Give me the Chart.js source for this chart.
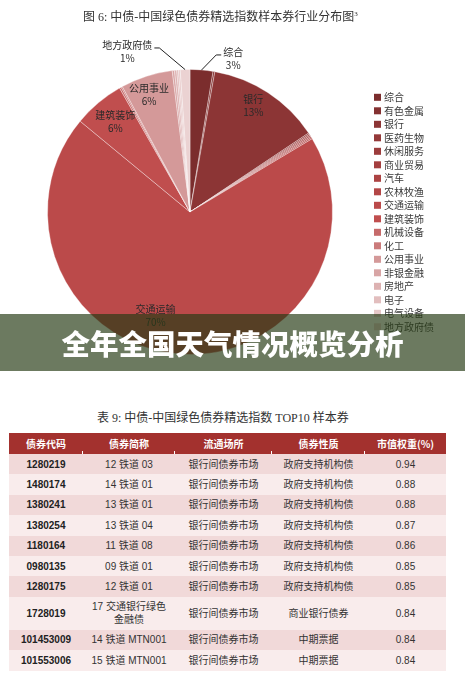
<!DOCTYPE html>
<html>
<head>
<meta charset="utf-8">
<script src="https://cdn.jsdelivr.net/npm/chart.js@4.4.0/dist/chart.umd.min.js"></script>
<style>
  html, body { margin: 0; padding: 0; background: #fff; }
  #page { position: relative; width: 465px; height: 686px; overflow: hidden; font-family: "Noto Sans CJK SC", "Liberation Sans", sans-serif; }
  #piechart { position: absolute; left: 0; top: 0; }
  .cap { position: absolute; font-size: 12px; color: #333; white-space: nowrap; font-family: "Liberation Serif", "Noto Sans CJK SC", serif; }
  #banner { position: absolute; left: 0; top: 314px; width: 465px; height: 57px; background: rgba(39, 59, 20, 0.68);
            color: #fff; font-size: 28.5px; font-weight: 900; text-align: center; line-height: 57px; }
  #tbl { position: absolute; left: 9px; top: 433px; width: 437px; border-collapse: collapse; table-layout: fixed;
         font-family: "Liberation Sans", "Noto Sans CJK SC", sans-serif; font-size: 10px; color: #333; }
  #tbl th { background: #a3312e; color: #fff; height: 21px; font-weight: bold; padding: 0; font-family: "Noto Sans CJK SC", sans-serif; position: relative; }
  #tbl th .tick { position: absolute; right: 0; bottom: 0; width: 1px; height: 3px; background: #fff; }
  #tbl td { height: 20.4px; padding: 0; text-align: center; line-height: 13px; }
  #tbl td.code { font-weight: bold; color: #222; }
  #tbl tr.odd td { background: #f1d9d9; }
  #tbl tr.even td { background: #f9ecec; }
  #tbl tr.tall td { height: 33px; }
</style>
</head>
<body>
<div id="page">
  <canvas id="piechart" width="465" height="400"></canvas>
  <div class="cap" style="left:83px; top:7px;">图 6: 中债-中国绿色债券精选指数样本券行业分布图<sup style="font-size:7px;">3</sup></div>
  <div id="banner">全年全国天气情况概览分析</div>
  <div class="cap" style="left:97px; top:408px;">表 9: 中债-中国绿色债券精选指数 TOP10 样本券</div>
  <table id="tbl"></table>
</div>
<script>
// industry split of the index sample (%)
var industries = ["综合", "有色金属", "银行", "医药生物", "休闲服务", "商业贸易", "汽车", "农林牧渔",
  "交通运输", "建筑装饰", "机械设备", "化工", "公用事业", "非银金融", "房地产", "电子", "电气设备", "地方政府债"];
var shares = [2.6, 0.2, 12.9, 0.15, 0.15, 0.15, 0.15, 0.15,
  69.8, 5.8, 0.2, 0.15, 5.9, 0.25, 0.25, 0.2, 0.2, 1.1];
var colors = ["#7b2d2d", "#843131", "#8c3535", "#943939", "#9c3c3c", "#a43f3f", "#ac4343", "#b34646",
  "#bb4a4a", "#c04e4e", "#c66a6a", "#cb7b7b", "#d49999", "#d8a5a5", "#ddb2b2", "#e2bebe", "#e6c8c8", "#ebd2d2"];

// TOP10 table
var tblHead = ["债券代码", "债券简称", "流通场所", "债券性质", "市值权重(%)"];
var bondCodes = ["1280219", "1480174", "1380241", "1380254", "1180164", "0980135", "1280175", "1728019", "101453009", "101553006"];
var bondNames = ["12 铁道 03", "14 铁道 01", "13 铁道 01", "13 铁道 04", "11 铁道 08", "09 铁道 01", "12 铁道 01",
  "17 交通银行绿色<br>金融债", "14 铁道 MTN001", "15 铁道 MTN001"];
var bondMarket = ["银行间债券市场", "银行间债券市场", "银行间债券市场", "银行间债券市场", "银行间债券市场",
  "银行间债券市场", "银行间债券市场", "银行间债券市场", "银行间债券市场", "银行间债券市场"];
var bondType = ["政府支持机构债", "政府支持机构债", "政府支持机构债", "政府支持机构债", "政府支持机构债",
  "政府支持机构债", "政府支持机构债", "商业银行债券", "中期票据", "中期票据"];
var bondWeight = ["0.94", "0.88", "0.88", "0.87", "0.86", "0.85", "0.85", "0.84", "0.84", "0.84"];

// which slices get a label, and where (angle shift in deg, radius factor, outside w/ leader)
var labelPlace = {
  "综合": { dAng: 11.1, k: 1.116, out: true },
  "银行": { dAng: -2.5, k: 0.87 },
  "交通运输": { dAng: 14, k: 0.77 },
  "建筑装饰": { dAng: 0.3, k: 0.82 },
  "公用事业": { dAng: -1.5, k: 0.87 },
  "地方政府债": { dAng: -19.4, k: 1.206, out: true }
};

var colW = [74, 92, 97, 93, 81];
var tbl = document.getElementById('tbl');
var html = '<colgroup>';
colW.forEach(function(w) { html += '<col style="width:' + w + 'px">'; });
html += '</colgroup><tr>';
tblHead.forEach(function(h, i) { html += '<th>' + h + (i < 4 ? '<span class="tick"></span>' : '') + '</th>'; });
html += '</tr>';
for (var i = 0; i < bondCodes.length; i++) {
  html += '<tr class="' + (i % 2 == 0 ? 'odd' : 'even') + (i == 7 ? ' tall' : '') + '">' +
    '<td class="code">' + bondCodes[i] + '</td><td>' + bondNames[i] + '</td><td>' + bondMarket[i] +
    '</td><td>' + bondType[i] + '</td><td>' + bondWeight[i] + '</td></tr>';
}
tbl.innerHTML = html;

var pieLabels = {
  id: 'pieLabels',
  afterDatasetsDraw: function(chart) {
    var c = chart.ctx;
    var meta = chart.getDatasetMeta(0);
    var total = shares.reduce(function(a, b) { return a + b; }, 0);
    c.save();
    c.font = '10px "Noto Sans CJK SC", sans-serif';
    c.textAlign = 'center';
    c.textBaseline = 'middle';
    meta.data.forEach(function(arc, i) {
      var p = labelPlace[industries[i]];
      if (!p) return;
      var mid = (arc.startAngle + arc.endAngle) / 2;
      var a = mid + p.dAng * Math.PI / 180;
      var r = arc.outerRadius;
      var x = arc.x + Math.cos(a) * r * p.k;
      var y = arc.y + Math.sin(a) * r * p.k;
      var pct = Math.round(shares[i] / total * 100) + '%';
      c.fillStyle = '#2a2a2a';
      c.fillText(industries[i], x, y - 6.5);
      c.fillText(pct, x, y + 6.5);
      if (p.out) {
        var tw = c.measureText(industries[i]).width;
        var ex = arc.x + Math.cos(mid) * r;
        var ey = arc.y + Math.sin(mid) * r;
        var right = x > arc.x;
        var tx = right ? x - tw / 2 - 2 : x + tw / 2 + 2;
        var ty = y - 4;
        c.strokeStyle = '#222';
        c.lineWidth = 1;
        c.beginPath();
        c.moveTo(ex, ey);
        c.lineTo(right ? tx - 5 : tx + 5, ty);
        c.lineTo(tx, ty);
        c.stroke();
      }
    });
    c.restore();
  }
};

var sideLegend = {
  id: 'sideLegend',
  afterDraw: function(chart) {
    var c = chart.ctx;
    c.save();
    c.font = '10px "Noto Sans CJK SC", sans-serif';
    c.textBaseline = 'middle';
    c.textAlign = 'left';
    industries.forEach(function(name, i) {
      var y = 97.3 + i * 13.5;
      c.fillStyle = colors[i];
      c.fillRect(374, y - 3.5, 7, 7);
      c.fillStyle = '#3a3a3a';
      c.fillText(name, 384, y);
    });
    c.restore();
  }
};

var ctx = document.getElementById("piechart");
var myChart = new Chart(ctx, {
  type: 'pie',
  data: {
    labels: industries,
    datasets: [{
      data: shares,
      backgroundColor: colors,
      borderColor: 'rgba(255,255,255,0.35)',
      borderWidth: 1,
      hoverBorderWidth: 1,
      hoverOffset: 0
    }]
  },
  options: {
    responsive: false,
    animation: false,
    devicePixelRatio: 1,
    layout: { padding: { left: 47, right: 132, top: 69, bottom: 45 } },
    plugins: {
      legend: { display: false },
      tooltip: { enabled: false }
    }
  },
  plugins: [pieLabels, sideLegend]
});
</script>
</body>
</html>
